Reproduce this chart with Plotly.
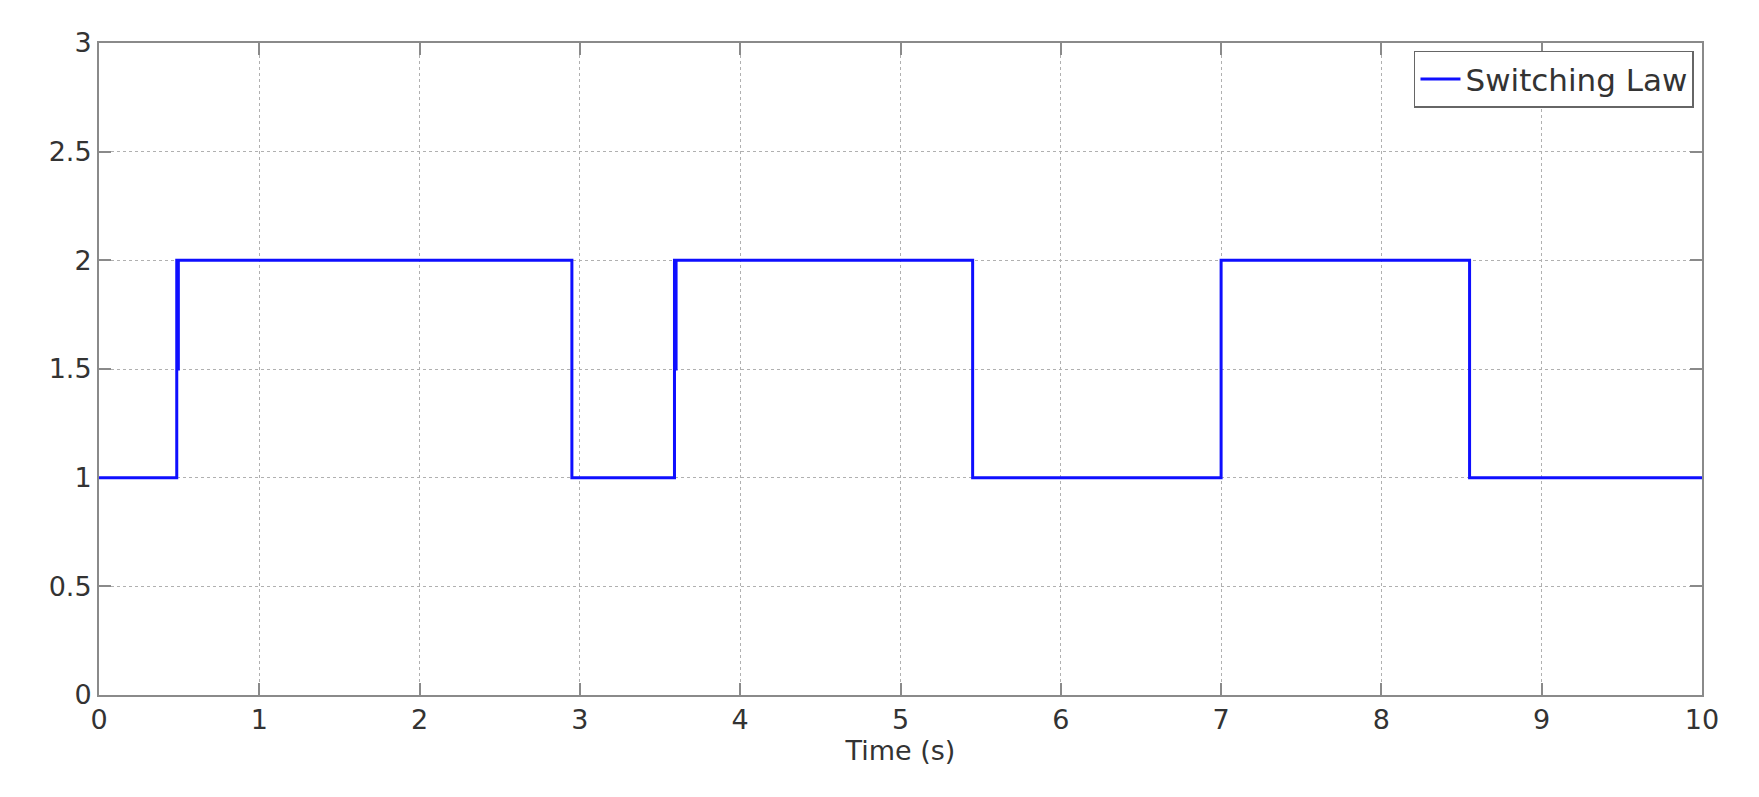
import plotly.graph_objects as go

# switching instants (s) and the mode held from each instant on
switch_times = [0.0, 0.485, 0.49, 0.495, 2.95, 3.59, 3.595, 3.6, 5.45, 7.0, 8.55, 10.0]
modes = [1, 2, 1.5, 2, 1, 2, 1.5, 2, 1, 2, 1, 1]

x_ticks = [0, 1, 2, 3, 4, 5, 6, 7, 8, 9, 10]
y_ticks = [0, 0.5, 1, 1.5, 2, 2.5, 3]

font_family = "DejaVu Sans, Arial, sans-serif"
axis_color = "#8a8a8a"
grid_color = "#b0b0b0"

fig = go.Figure()
fig.add_trace(go.Scatter(
    x=switch_times,
    y=modes,
    mode="lines",
    line=dict(color="#0f0fff", width=3, shape="hv"),
    name="Switching Law",
    cliponaxis=False,
))

axis_common = dict(
    showline=True,
    linecolor=axis_color,
    linewidth=2,
    mirror="ticks",
    ticks="inside",
    ticklen=12,
    tickwidth=1.5,
    tickcolor=axis_color,
    showgrid=True,
    gridcolor=grid_color,
    griddash="dot",
    gridwidth=1,
    zeroline=False,
    automargin=False,
    layer="below traces",
    tickfont=dict(family=font_family, size=27, color="#333333"),
)

fig.update_xaxes(
    range=[0, 10],
    tickvals=x_ticks,
    title=dict(text="Time (s)", font=dict(family=font_family, size=27, color="#333333"), standoff=6),
    **axis_common,
)
fig.update_yaxes(
    range=[0, 3],
    tickvals=y_ticks,
    **axis_common,
)

# page body has an 8px margin, so the figure is a bit smaller than the window
fig.update_layout(
    width=1743,
    height=781,
    plot_bgcolor="white",
    paper_bgcolor="white",
    margin=dict(l=91, r=49, t=35, b=94),
    showlegend=True,
    legend=dict(
        x=0.995,
        y=0.988,
        xanchor="right",
        yanchor="top",
        bgcolor="white",
        bordercolor="#666666",
        borderwidth=1.5,
        font=dict(family=font_family, size=31, color="#333333"),
        itemwidth=40,
    ),
)

fig.write_html("out.html")
